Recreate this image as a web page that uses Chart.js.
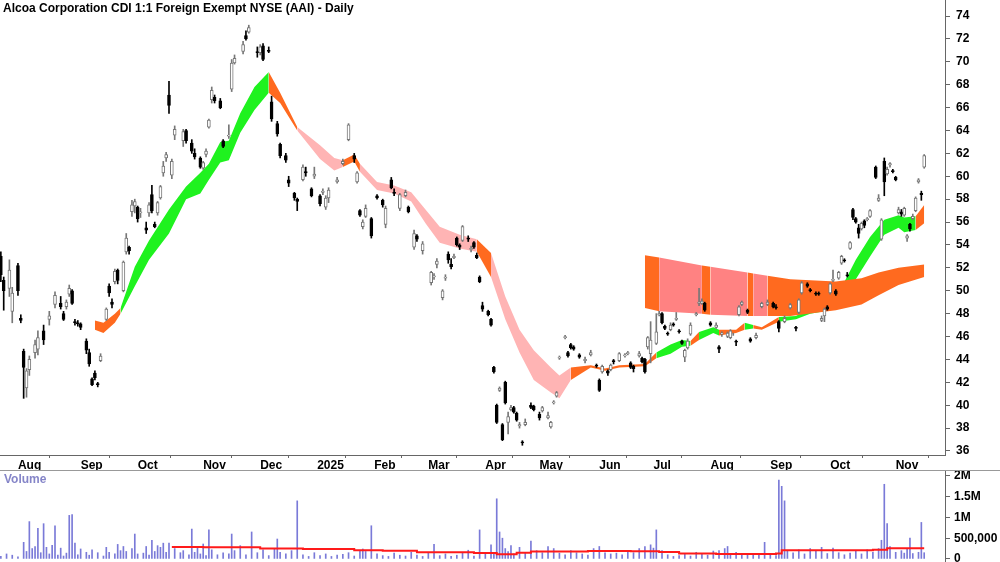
<!DOCTYPE html>
<html><head><meta charset="utf-8">
<script src="https://cdn.jsdelivr.net/npm/chart.js@4.4.0/dist/chart.umd.min.js"></script>
<style>
html,body{margin:0;padding:0;background:#fff;width:1000px;height:562px;overflow:hidden;font-family:"Liberation Sans",Arial,sans-serif}
#top{position:absolute;left:0;top:0;width:1000px;height:470px}
#bot{position:absolute;left:0;top:470px;width:1000px;height:92px;border-top:1px solid #999;box-sizing:border-box}
#title{position:absolute;left:3px;top:1px;font:bold 12px "Liberation Sans",Arial,sans-serif;color:#000}
#vlab{position:absolute;left:4px;top:472px;font:bold 12px "Liberation Sans",Arial,sans-serif;color:#8585c8}
</style></head><body>
<div id="top"><canvas id="c1"></canvas></div>
<div id="bot"><canvas id="c2"></canvas></div>
<div id="title">Alcoa Corporation CDI 1:1 Foreign Exempt NYSE (AAI) - Daily</div>
<div id="vlab">Volume</div>
<script>
// ---- data (x = trading-day index from start of Aug 2024) ----
const monthStarts=[0,22,42,65,85,105,125,144,164,183,204,223,243,264,285,308];
const monthLabels=["Aug","Sep","Oct","Nov","Dec","2025","Feb","Mar","Apr","May","Jun","Jul","Aug","Sep","Oct","Nov"];
const priceTicks=[36,38,40,42,44,46,48,50,52,54,56,58,60,62,64,66,68,70,72,74];
// [day, open, high, low, close]
const candles=[
[-6,53.0,53.4,50.8,51.4],[-5,50.9,51.2,48.3,50.0],[-3,50.2,52.7,49.5,51.8],[-2,48.2,50.3,47.2,49.8],
[0,52.2,52.4,49.6,50.0],[1,47.6,47.9,47.2,47.4],[2,44.7,44.9,40.6,43.3],[3,41.5,43.2,40.7,43.0],
[4,43.1,44.3,42.6,44.0],[6,44.6,45.7,44.1,45.3],[7,44.9,46.5,44.4,45.9],[9,46.5,47.0,45.3,45.7],
[11,47.5,48.2,47.0,47.8],[13,48.8,49.9,48.5,49.6],[15,48.9,49.5,48.4,48.6],[16,48.0,48.2,47.4,47.5],
[17,48.6,49.2,48.4,49.0],[18,49.7,50.5,49.5,50.2],[19,50.0,50.1,48.8,48.9],[20,47.3,47.5,47.0,47.2],
[21,47.2,47.4,46.9,47.1],[22,47.1,47.2,46.6,46.8],[24,45.6,45.8,44.5,44.8],[25,44.6,44.9,43.4,43.6],
[26,42.3,42.4,41.7,41.8],[27,42.8,43.0,42.2,42.4],[28,41.9,42.0,41.6,41.8],[29,43.9,44.5,43.8,44.3],
[31,47.5,48.5,47.4,48.4],[32,50.4,50.6,49.5,49.8],[33,49.0,49.3,48.5,48.8],[34,50.8,51.9,50.6,51.7],
[35,51.8,51.9,50.6,50.9],[37,50.0,52.6,49.9,52.5],[38,53.4,55.0,53.2,54.6],[39,53.8,53.9,53.2,53.5],
[40,56.9,57.9,56.5,57.5],[41,57.4,58.0,56.8,57.8],[42,57.3,57.4,56.0,56.3],[43,56.8,57.2,56.4,56.9],
[45,55.5,56.0,55.0,55.3],[46,56.8,57.7,56.5,57.5],[47,58.4,59.2,56.8,57.0],[48,55.8,56.0,55.5,55.6],
[49,56.8,57.8,56.6,57.7],[50,58.1,59.2,58.0,59.1],[51,60.3,61.3,60.0,60.9],[52,61.6,62.1,61.3,61.9],
[53,67.1,68.3,65.5,66.2],[54,60.1,61.5,59.8,61.3],[55,63.6,64.4,63.2,64.1],[58,63.1,64.1,62.6,63.9],
[59,64.0,64.1,62.9,63.1],[61,62.9,63.2,62.0,62.2],[62,62.0,62.4,61.5,61.7],[64,61.6,61.7,60.7,60.8],
[65,60.7,61.3,60.6,61.2],[66,61.9,62.4,61.7,62.2],[67,64.3,65.0,64.2,64.9],[68,66.7,67.8,66.4,67.5],
[69,66.9,67.1,66.4,66.6],[71,66.6,66.8,65.9,66.0],[72,63.1,63.2,62.5,62.6],[74,63.5,64.5,63.3,63.6],
[75,67.6,70.2,67.4,69.9],[76,69.9,70.6,69.8,70.3],[79,70.9,71.8,70.7,71.5],[80,72.3,72.7,71.9,72.0],
[81,72.6,73.2,72.5,73.0],[84,70.9,71.3,70.4,70.8],[85,70.8,71.5,70.6,71.3],[86,71.4,71.6,70.1,70.2],
[88,71.0,71.3,70.8,70.9],[89,66.5,67.0,64.8,65.0],[91,64.6,64.8,63.5,63.7],[92,62.8,62.9,61.6,61.8],
[94,61.8,62.0,61.2,61.4],[95,59.7,60.0,59.1,59.4],[97,58.5,58.6,57.9,58.1],[98,58.0,58.1,57.0,57.8],
[100,59.7,61.0,59.6,60.8],[101,60.4,60.8,60.0,60.3],[103,58.9,59.0,58.2,58.3],[104,60.0,60.8,59.8,60.2],
[106,58.3,58.4,57.4,57.6],[107,58.6,58.9,58.4,58.7],[108,57.3,58.3,57.1,58.1],[109,58.1,59.0,57.7,58.8],
[112,59.5,59.9,59.4,59.7],[114,61.1,61.5,61.0,61.3],[116,63.2,64.6,63.1,64.5],[118,61.8,62.0,61.2,61.5],
[119,59.5,60.4,59.4,60.3],[120,57.0,57.1,56.5,56.6],[121,55.6,56.2,55.4,56.0],[122,56.5,57.5,56.4,57.2],
[124,56.3,56.4,54.6,54.8],[126,58.3,58.4,58.0,58.1],[128,57.9,58.0,57.3,57.5],[129,55.8,57.4,55.5,57.2],
[131,59.7,59.9,58.9,59.0],[132,58.6,58.9,58.3,58.5],[134,57.2,58.5,57.0,58.4],[136,58.3,58.8,58.2,58.6],
[137,57.3,57.4,56.8,56.9],[139,53.8,55.3,53.6,55.0],[140,54.8,54.9,54.3,54.5],[142,53.5,54.3,53.2,54.1],
[145,50.7,51.7,50.5,51.6],[146,51.2,51.5,51.0,51.3],[147,52.3,52.8,52.0,52.6],[149,49.4,50.1,49.2,50.0],
[150,51.1,51.4,50.9,51.2],[151,53.2,53.4,52.4,52.7],[152,52.3,52.8,51.9,52.1],[153,52.9,53.2,52.8,53.0],
[154,54.6,54.7,53.9,54.0],[155,54.0,54.1,53.6,53.8],[156,54.4,55.7,54.3,55.6],[158,54.6,54.8,54.3,54.5],
[159,53.6,53.9,53.4,53.7],[160,54.2,54.3,53.7,53.8],[161,53.1,53.3,52.8,52.9],[162,51.2,51.3,50.7,50.8],
[163,48.7,49.0,48.2,48.4],[165,48.2,48.3,47.8,47.9],[166,47.5,47.6,46.9,47.0],[167,43.3,43.4,42.8,42.9],
[168,40.0,40.1,38.4,38.5],[169,41.3,41.6,41.2,41.5],[170,38.3,38.4,36.9,37.0],[171,42.0,42.1,40.1,40.2],
[172,38.5,39.4,37.5,39.0],[173,39.6,40.0,39.5,39.8],[174,39.8,39.9,39.3,39.4],[175,39.3,39.4,38.6,38.7],
[176,38.2,38.5,38.0,38.3],[177,36.8,36.9,36.5,36.7],[178,38.3,38.8,38.2,38.5],[180,40.0,40.2,39.7,39.8],
[181,39.9,40.0,39.5,39.6],[183,39.2,39.4,38.7,38.9],[184,39.5,39.9,39.4,39.8],[186,38.9,39.4,38.8,39.1],
[187,38.1,38.6,38.0,38.5],[188,40.2,40.4,40.1,40.3],[189,40.8,41.2,40.7,41.1],[190,44.1,44.3,44.0,44.2],
[192,45.9,46.1,45.8,46.0],[193,44.6,44.7,44.2,44.3],[194,45.3,45.4,44.9,45.0],[195,45.1,45.2,44.8,44.9],
[197,44.4,44.5,44.1,44.2],[199,43.9,44.2,43.7,44.0],[201,44.4,44.8,44.3,44.6],[203,43.5,43.6,43.3,43.4],
[204,42.2,42.3,41.2,41.3],[205,42.9,43.5,42.8,43.4],[207,43.0,43.1,42.6,42.8],[208,43.1,43.6,43.0,43.5],
[209,43.9,44.0,43.6,43.8],[211,43.9,44.6,43.8,44.5],[213,44.3,44.5,44.2,44.4],[214,44.5,44.7,44.4,44.6],
[215,43.7,43.8,43.2,43.3],[216,43.4,43.5,42.9,43.2],[218,44.3,44.7,44.2,44.5],[219,44.1,44.2,43.7,43.8],
[220,44.0,44.1,42.8,42.9],[221,45.1,46.0,44.9,45.9],[222,44.5,47.3,43.7,45.7],[224,45.4,48.0,45.3,46.4],
[225,47.9,48.2,47.8,48.0],[226,48.0,48.1,47.1,47.2],[227,46.9,47.0,46.6,46.7],[228,46.3,46.4,46.1,46.2],
[229,46.6,47.2,46.5,47.0],[230,47.1,47.2,46.9,47.0],[231,47.5,48.1,47.4,47.6],[232,46.5,46.6,46.3,46.4],
[233,45.6,45.7,45.3,45.4],[234,44.2,44.9,43.8,44.8],[235,45.0,45.8,44.9,45.6],[236,46.2,47.2,46.1,47.0],
[238,47.9,48.1,47.8,48.0],[239,48.9,50.2,48.7,49.0],[240,48.9,49.3,48.8,49.1],[241,48.9,49.0,48.2,48.3],
[243,47.2,47.3,46.9,47.0],[245,46.8,47.2,46.7,47.0],[246,45.1,45.2,44.6,44.9],[247,46.2,46.4,46.0,46.3],
[249,46.0,46.4,45.9,46.3],[250,45.9,46.6,45.8,46.5],[251,46.2,46.3,46.1,46.2],[252,45.6,45.7,45.2,45.5],
[253,47.9,48.7,47.8,48.6],[254,48.8,49.1,48.7,49.0],[256,48.3,48.4,48.0,48.1],[257,45.8,45.9,45.5,45.6],
[259,45.9,46.3,45.8,46.1],[261,48.6,49.0,48.5,48.9],[263,48.8,49.2,48.7,49.0],[265,48.9,49.0,48.5,48.6],
[266,48.6,48.8,48.4,48.5],[267,47.3,47.4,46.4,46.7],[269,47.3,47.8,47.2,47.6],[271,48.5,48.9,48.4,48.8],
[273,46.8,46.9,46.5,46.7],[274,48.1,49.3,48.0,49.2],[275,49.8,50.8,49.7,50.7],[277,50.6,50.7,50.3,50.4],
[278,50.1,50.2,49.9,50.0],[280,49.8,49.9,49.6,49.7],[281,49.8,49.9,49.6,49.7],[282,47.4,47.8,47.3,47.6],
[283,47.8,48.5,47.3,48.4],[284,48.6,48.7,48.3,48.4],[285,49.8,50.7,49.7,50.6],[286,50.9,51.8,50.8,51.0],
[287,50.0,50.1,49.6,49.7],[288,51.1,51.7,51.0,51.6],[289,52.4,53.1,52.3,53.0],[290,52.7,52.8,52.5,52.6],
[291,51.4,51.6,51.2,51.3],[292,53.7,54.3,53.6,54.2],[293,57.1,57.2,56.2,56.4],[294,56.3,56.4,55.9,56.0],
[295,55.5,55.8,54.6,55.0],[296,55.4,56.0,55.3,55.9],[297,56.1,56.2,55.5,55.7],[298,56.2,56.4,56.1,56.3],
[299,56.5,57.1,56.4,57.0],[301,60.8,60.9,59.8,59.9],[302,57.9,58.4,57.8,58.1],[303,54.5,56.3,54.4,56.2],
[304,61.3,61.6,58.3,59.5],[305,60.2,60.8,60.1,60.6],[306,61.0,61.2,60.8,61.1],[307,60.5,60.6,60.3,60.4],
[308,59.9,60.0,59.6,59.7],[309,56.8,57.3,56.7,57.1],[310,56.9,57.1,56.5,56.7],[311,56.6,57.3,56.5,57.2],
[312,54.6,54.9,54.3,54.8],[313,55.8,55.9,55.2,55.4],[314,56.3,56.7,56.2,56.5],[315,57.0,58.2,56.9,58.1],
[316,59.5,59.8,59.4,59.7],[317,58.5,58.7,57.9,58.4],[318,60.8,61.9,60.7,61.8]];
// short-term ribbon: day, upper, lower, zone of following segment (G green, O orange, P pink)
const shortDay=[27,30,34,36,41,46,53,59,64,67,71,74,78,83,88,92,98,106,111,114,118,120,126,132,138,143,148,155,161,166,171,176,181,187,190,194,201,206,211,220,224,229,233,236,239,244,246,252,255,258,261,267,273,278,283,288,294,299,304,309,311,315,318];
const shortUp=[47.4,47.2,48.0,48.5,52.1,54.4,57.1,59.1,60.3,61.1,63.0,63.1,65.5,67.8,69.1,67.3,64.3,62.7,61.6,61.4,61.9,61.1,59.5,59.2,58.6,57.1,55.6,54.9,54.5,53.3,49.5,46.6,44.8,43.3,42.6,43.3,43.5,43.2,43.5,43.6,44.6,45.3,45.7,45.6,46.4,46.8,46.6,46.6,47.2,47.0,46.8,47.7,47.8,48.5,48.8,49.8,52.7,54.7,56.2,56.6,56.4,56.5,57.5];
const shortLo=[46.6,46.3,47.2,48.0,50.4,52.7,55.0,58.0,58.5,59.7,61.2,61.4,63.8,65.8,67.3,66.4,64.0,61.5,60.5,60.8,61.3,60.4,58.8,58.5,57.8,55.9,54.2,53.7,53.4,51.2,47.5,44.6,42.2,41.1,40.6,42.2,43.3,43.0,43.3,43.4,44.1,44.5,45.1,45.2,45.7,46.3,46.1,46.3,46.6,46.7,46.6,47.3,47.5,48.0,48.2,48.8,51.0,53.0,54.9,55.5,55.1,55.3,55.9];
const shortZone="OOOGGGGGGGGGGGOOPPPOOPPPPPPPOPPPPPPOOOOOGGGOGGOOGOOGGGGGGGGGGOOG";
// long-term ribbon
const longDay=[220,225,240,243,256,258,263,271,287,296,302,309,318];
const longUp=[53.1,52.9,52.2,52.1,51.6,51.5,51.3,51.0,50.8,51.1,51.6,52.0,52.3];
const longLo=[48.5,48.2,48.0,47.9,47.8,47.8,47.8,47.8,48.3,48.8,49.6,50.5,51.2];
const longZone="OPOPOPOOOOOOO";
// volume [day, shares]
const volume=[[-6,60000],[-4,120000],[-2,90000],[0,50000],[2,400000],[3,180000],[4,900000],[5,250000],[6,300000],[7,740000],[8,150000],[9,850000],[10,280000],[11,120000],[12,330000],[13,800000],[14,90000],[15,260000],[16,70000],[17,140000],[18,1050000],[19,1070000],[20,380000],[21,100000],[22,240000],[24,160000],[25,90000],[26,220000],[28,150000],[30,70000],[31,280000],[32,160000],[34,120000],[35,350000],[36,200000],[37,300000],[38,180000],[40,250000],[41,600000],[42,120000],[44,140000],[45,300000],[46,90000],[47,450000],[48,180000],[49,320000],[50,280000],[51,380000],[52,160000],[53,380000],[55,250000],[57,150000],[58,200000],[60,100000],[61,720000],[62,160000],[63,300000],[64,120000],[65,360000],[66,80000],[67,700000],[68,220000],[70,100000],[72,150000],[74,120000],[75,600000],[76,200000],[78,320000],[80,100000],[82,650000],[84,150000],[86,220000],[88,80000],[90,250000],[91,480000],[92,160000],[94,120000],[96,200000],[98,1400000],[100,100000],[102,60000],[104,150000],[106,80000],[108,120000],[110,60000],[112,90000],[114,110000],[116,150000],[118,70000],[120,200000],[121,240000],[122,180000],[124,800000],[126,120000],[128,80000],[130,60000],[132,140000],[134,90000],[136,70000],[138,160000],[140,90000],[142,60000],[144,150000],[146,350000],[148,80000],[150,120000],[152,60000],[154,90000],[156,140000],[158,210000],[160,70000],[162,700000],[164,120000],[166,340000],[167,120000],[168,1450000],[169,650000],[170,500000],[171,250000],[172,180000],[173,320000],[174,120000],[176,280000],[178,150000],[180,430000],[182,200000],[184,150000],[186,300000],[188,250000],[190,140000],[192,100000],[194,200000],[196,150000],[198,120000],[200,90000],[202,250000],[204,300000],[206,150000],[208,120000],[210,140000],[212,100000],[214,200000],[216,150000],[218,250000],[220,300000],[222,340000],[223,260000],[224,700000],[226,200000],[228,100000],[230,60000],[232,80000],[234,120000],[236,70000],[238,160000],[240,110000],[242,90000],[244,190000],[246,200000],[248,250000],[249,300000],[250,120000],[252,160000],[254,90000],[256,130000],[258,110000],[260,90000],[262,400000],[264,120000],[266,80000],[267,1900000],[268,1750000],[269,1400000],[270,200000],[272,150000],[274,220000],[276,120000],[278,250000],[280,200000],[282,280000],[284,130000],[286,260000],[288,150000],[290,100000],[292,140000],[294,200000],[296,120000],[298,220000],[300,160000],[302,250000],[303,450000],[304,1800000],[305,850000],[306,300000],[308,160000],[310,200000],[311,140000],[312,250000],[313,500000],[314,130000],[316,160000],[317,880000],[318,150000]];
const volumeMA=[[54,290000],[65,280000],[85,250000],[100,240000],[118,210000],[128,200000],[140,160000],[160,140000],[168,110000],[175,150000],[180,180000],[200,190000],[215,185000],[225,170000],[232,130000],[245,120000],[266,130000],[268,210000],[300,220000],[305,260000],[318,260000]];
const volTicks=[0,500000,1000000,1500000,2000000];

// ---- styling ----
const COL={G:'#1ff21f',O:'#ff6a1f',P:'#ffb4b4'};
const COLL={O:'#ff6a1f',P:'#ff8282'};
const XMIN=-6.3,XMAX=325.3;
const FONT={family:'"Liberation Sans", Arial, sans-serif',size:12,weight:'bold'};
const noPad=s=>{s.paddingTop=0;s.paddingBottom=0;s.paddingLeft=0;s.paddingRight=0;};

function ribbon(days,up,lo,zones,cols){
  const out=[];let s=0;
  for(let i=1;i<days.length;i++){
    if(i===days.length-1||zones[i]!==zones[s]){
      const idx=[];for(let k=s;k<=i;k++)idx.push(k);
      const c=cols[zones[s]];
      out.push({type:'line',data:idx.map(k=>({x:days[k],y:up[k]})),borderWidth:0,pointRadius:0,fill:'+1',backgroundColor:c,borderColor:c,order:10,tension:0});
      out.push({type:'line',data:idx.map(k=>({x:days[k],y:lo[k]})),borderWidth:0,pointRadius:0,fill:false,borderColor:c,order:10,tension:0});
      s=i;
    }
  }
  return out;
}
const ds=[...ribbon(longDay,longUp,longLo,longZone,COLL),...ribbon(shortDay,shortUp,shortLo,shortZone,COL)];
ds.push({type:'bar',data:candles.map(c=>({x:c[0],y:[c[3],c[2]]})),barThickness:1,grouped:false,
  backgroundColor:candles.map(c=>c[4]<c[1]?'#000':'#777'),order:2});
ds.push({type:'bar',data:candles.map(c=>({x:c[0],y:[Math.min(c[1],c[4]),Math.max(c[1],c[4])]})),barThickness:3,grouped:false,
  backgroundColor:candles.map(c=>c[4]<c[1]?'#000':'#fff'),borderColor:candles.map(c=>c[4]<c[1]?'#000':'#777'),borderWidth:1,borderSkipped:false,order:1});

new Chart(document.getElementById('c1'),{
  type:'bar',data:{datasets:ds},
  options:{animation:false,responsive:true,maintainAspectRatio:false,
    plugins:{legend:{display:false},tooltip:{enabled:false}},
    layout:{padding:0},
    scales:{
      x:{type:'linear',min:XMIN,max:XMAX,offset:false,
        afterBuildTicks:s=>{s.ticks=monthStarts.map(v=>({value:v}));},
        afterFit:s=>{s.height=15;noPad(s);},
        ticks:{callback:(v,i)=>monthLabels[i],align:'start',maxRotation:0,autoSkip:false,color:'#000',font:FONT,padding:0},
        grid:{drawOnChartArea:false,tickLength:3,color:'#666'},border:{color:'#666'}},
      y:{position:'right',min:35.65,max:75.4,
        afterBuildTicks:s=>{s.ticks=priceTicks.map(v=>({value:v}));},
        afterFit:s=>{s.width=55;noPad(s);},
        ticks:{color:'#000',font:FONT,padding:6},
        grid:{drawOnChartArea:false,tickLength:5,color:'#666'},border:{color:'#666'}}
    }}
});

new Chart(document.getElementById('c2'),{
  type:'bar',
  data:{datasets:[
    {type:'line',data:volumeMA.map(v=>({x:v[0],y:v[1]})),stepped:'before',borderColor:'#ff1a1a',borderWidth:2,pointRadius:0,fill:false,order:1},
    {type:'bar',data:volume.map(v=>({x:v[0],y:v[1]})),barThickness:1,grouped:false,backgroundColor:'#7a7ad8',order:2}
  ]},
  options:{animation:false,responsive:true,maintainAspectRatio:false,
    plugins:{legend:{display:false},tooltip:{enabled:false}},
    layout:{padding:{top:0,bottom:1}},
    scales:{
      x:{type:'linear',min:XMIN,max:XMAX,offset:false,display:false},
      y:{position:'right',min:-50000,max:2120000,
        afterBuildTicks:s=>{s.ticks=volTicks.map(v=>({value:v}));},
        afterFit:s=>{s.width=55;noPad(s);},
        ticks:{color:'#000',font:FONT,padding:4,callback:v=>v===0?'0':v===500000?'500,000':(v/1e6)+'M'},
        grid:{drawOnChartArea:false,tickLength:5,color:'#666'},border:{color:'#666'}}
    }}
});
</script></body></html>
